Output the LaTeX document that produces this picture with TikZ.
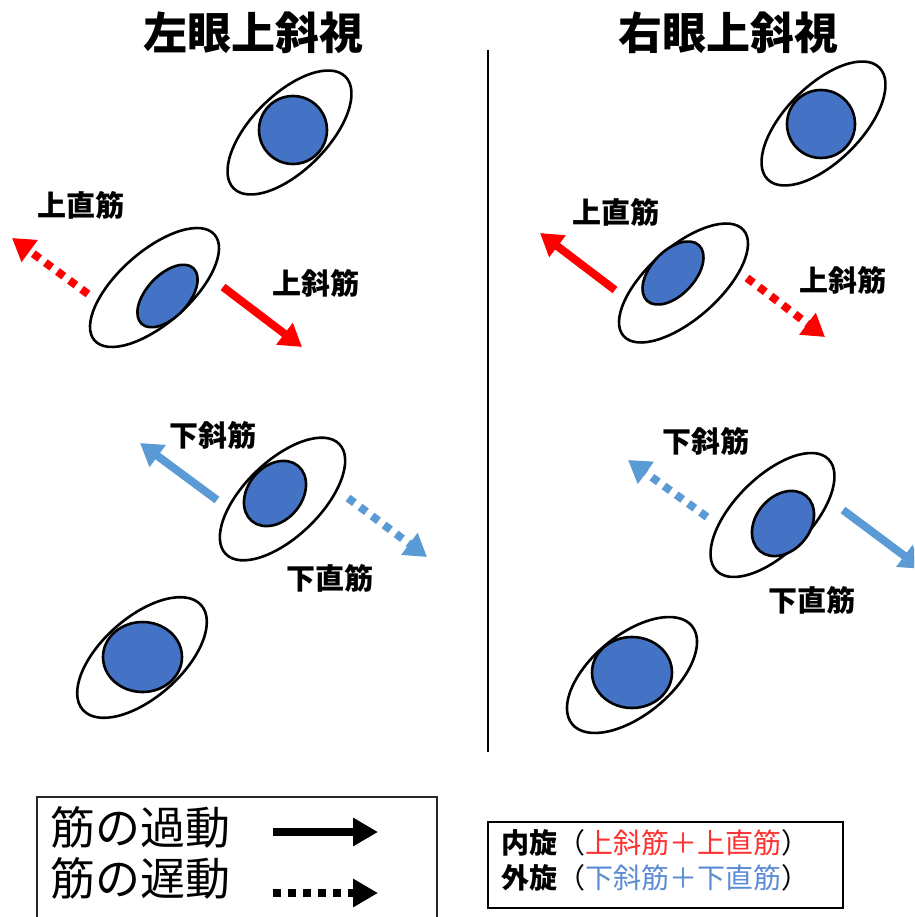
\documentclass[tikz,border=0pt]{standalone}
\usepackage{fontspec}
\setmainfont{Noto Sans CJK JP}
\usetikzlibrary{arrows.meta}
\definecolor{eyeblue}{HTML}{4472C4}
\definecolor{musred}{HTML}{FF0000}
\definecolor{musblue}{HTML}{5B9BD5}
\definecolor{txtred}{HTML}{FF3030}
\definecolor{txtblue}{HTML}{5B8BD3}
\begin{document}
\begin{tikzpicture}[x=1pt,y=-1pt,
  sclera/.style={draw=black,line width=2.6pt,fill=white},
  iris/.style={draw=black,line width=2.6pt,fill=eyeblue},
  pull/.style={line width=8pt,-{Triangle[length=22pt,width=26pt]}},
  weak/.style={pull,dash pattern=on 8pt off 7pt},
  keypull/.style={line width=7.5pt,-{Triangle[length=25pt,width=27pt]}},
  keyweak/.style={keypull,dash pattern=on 8pt off 7pt},
  muscle/.style={font=\bfseries\fontsize{29}{29}\selectfont,inner sep=0pt},
  heading/.style={font=\bfseries\fontsize{44}{44}\selectfont,inner sep=0pt},
  keytext/.style={font=\fontsize{45}{45}\selectfont,inner sep=0pt,anchor=west},
  rottext/.style={font=\fontsize{28}{28}\selectfont,inner sep=0pt,anchor=west}]
\clip (0,0) rectangle (914,917);
\fill[white] (0,0) rectangle (914,917);

% headings and divider
\node[heading] (hl) at (253,33) {左眼上斜視};
\node[heading] (hr) at (728,33) {右眼上斜視};
\coordinate (divtop) at (488,50);
\coordinate (divbot) at (488,752);
\draw[line width=2pt] (divtop) -- (divbot);

% ---- left eye column ----
\draw[sclera,rotate around={45:(289.5,132.5)}] (289.5,132.5) ellipse [x radius=79,y radius=38];
\draw[iris] (293,130) circle [radius=34];

\draw[sclera,rotate around={41.5:(154.5,287.5)}] (154.5,287.5) ellipse [x radius=80,y radius=36];
\draw[iris,rotate around={47:(167.5,296)}] (167.5,296) ellipse [x radius=38,y radius=21];

\draw[sclera,rotate around={44:(282.5,499)}] (282.5,499) ellipse [x radius=79,y radius=38];
\draw[iris,rotate around={50:(275,493.5)}] (275,493.5) ellipse [x radius=36,y radius=27];

\draw[sclera,rotate around={41.5:(142,657.5)}] (142,657.5) ellipse [x radius=79,y radius=40];
\draw[iris] (142.5,657) ellipse [x radius=39.5,y radius=35];

% ---- right eye column ----
\draw[sclera,rotate around={45:(823.5,123.5)}] (823.5,123.5) ellipse [x radius=79,y radius=38];
\draw[iris] (821,124) circle [radius=34];

\draw[sclera,rotate around={41.5:(683.5,283)}] (683.5,283) ellipse [x radius=80,y radius=36];
\draw[iris,rotate around={47:(673,273)}] (673,273) ellipse [x radius=38,y radius=22];

\draw[sclera,rotate around={45:(772.5,515)}] (772.5,515) ellipse [x radius=79,y radius=38];
\draw[iris,rotate around={50:(783,523.5)}] (783,523.5) ellipse [x radius=36,y radius=27];

\draw[sclera,rotate around={39.3:(632,675)}] (632,675) ellipse [x radius=77.4,y radius=40];
\draw[iris] (632,672.5) ellipse [x radius=40,y radius=35.5];

% ---- muscle pulls, left eye ----
\coordinate (lsrA) at (88,294);   \coordinate (lsrB) at (12,238);
\coordinate (lsoA) at (223,287);  \coordinate (lsoB) at (302,347);
\coordinate (lioA) at (217,500);  \coordinate (lioB) at (140,443);
\coordinate (lirA) at (348,498);  \coordinate (lirB) at (427,557);
\draw[weak,musred]  (lsrA) -- (lsrB);
\draw[pull,musred]  (lsoA) -- (lsoB);
\draw[pull,musblue] (lioA) -- (lioB);
\draw[weak,musblue] (lirA) -- (lirB);

\node[muscle] (lsr) at (81,205)  {上直筋};
\node[muscle] (lso) at (316,283) {上斜筋};
\node[muscle] (lio) at (213,435) {下斜筋};
\node[muscle] (lir) at (330,578) {下直筋};

% ---- muscle pulls, right eye ----
\coordinate (rsrA) at (615,290);  \coordinate (rsrB) at (540,233);
\coordinate (rsoA) at (747,278);  \coordinate (rsoB) at (825,337);
\coordinate (rioA) at (707,517);  \coordinate (rioB) at (628,460);
\coordinate (rirA) at (843,510);  \coordinate (rirB) at (922,569);
\draw[pull,musred]  (rsrA) -- (rsrB);
\draw[weak,musred]  (rsoA) -- (rsoB);
\draw[weak,musblue] (rioA) -- (rioB);
\draw[pull,musblue] (rirA) -- (rirB);

\node[muscle] (rsr) at (616,212) {上直筋};
\node[muscle] (rso) at (843,280) {上斜筋};
\node[muscle] (rio) at (706,441) {下斜筋};
\node[muscle] (rir) at (812,600) {下直筋};

% ---- key: over- and under-action ----
\coordinate (kbl) at (37,917);
\coordinate (ktl) at (37,797);
\coordinate (ktr) at (437,797);
\coordinate (kbr) at (437,917);
\draw[line width=1.3pt,draw=black!85] (kbl) -- (ktl) -- (ktr) -- (kbr);
\node[keytext] (kover)  at (50,827) {筋の過動};
\node[keytext] (kunder) at (50,878) {筋の遅動};
\coordinate (koA) at (273,832); \coordinate (koB) at (378,832);
\coordinate (kuA) at (273,893); \coordinate (kuB) at (378,893);
\draw[keypull] (koA) -- (koB);
\draw[keyweak] (kuA) -- (kuB);

% ---- key: torsion ----
\node[draw,line width=1.5pt,minimum width=355pt,minimum height=86pt,inner sep=0pt] (tbox) at (665.5,865) {};
\node[rottext] (intor) at (501,843) {{\bfseries 内旋}（{\color{txtred}上斜筋＋上直筋}）};
\node[rottext] (extor) at (501,878) {{\bfseries 外旋}（{\color{txtblue}下斜筋＋下直筋}）};
\end{tikzpicture}
\end{document}
